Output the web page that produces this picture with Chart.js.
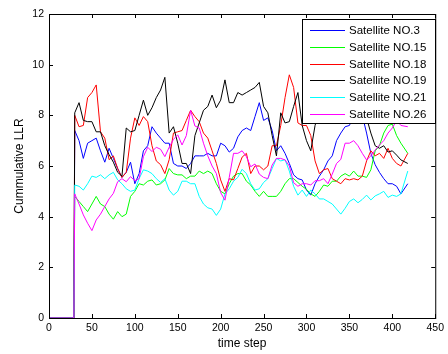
<!DOCTYPE html>
<html>
<head>
<meta charset="utf-8">
<script src="https://cdn.jsdelivr.net/npm/chart.js@4.4.1/dist/chart.umd.min.js"></script>
<style>
  body { margin: 0; background: #fff; }
  #wrap { width: 448px; height: 354px; }
</style>
</head>
<body>
<div id="wrap"><canvas id="llrChart" width="448" height="354"></canvas></div>
<script>
// time steps (0 until the detection starts, then every 5 steps)
var steps = [0, 29, 30, 35, 40, 45, 50, 55, 60, 65, 70, 75, 80, 85, 90, 95, 100, 105, 110, 115, 120, 125, 130, 135, 140, 145, 150, 155, 160, 165, 170, 175, 180, 185, 190, 195, 200, 205, 210, 215, 220, 225, 230, 235, 240, 245, 250, 255, 260, 265, 270, 275, 280, 285, 290, 295, 300, 305, 310, 315, 320, 325, 330, 335, 340, 345, 350, 355, 360, 365, 370, 375, 380, 385, 390, 395, 400, 405, 410, 418];

var sat3 = [0, 0, 7.4, 7.0, 6.3, 6.9, 7.0, 7.1, 6.6, 6.15, 6.7, 6.3, 5.9, 5.55, 5.75, 6.15, 5.3, 5.7, 6.6, 6.8, 7.55, 7.3, 7.1, 6.9, 6.9, 6.1, 6.0, 6.0, 5.9, 6.1, 6.4, 6.4, 6.4, 6.5, 6.4, 6.4, 6.9, 6.8, 6.55, 6.7, 7.15, 7.4, 7.5, 7.4, 7.95, 8.5, 7.8, 7.9, 7.4, 6.6, 6.8, 6.5, 6.1, 5.65, 5.5, 5.45, 5.05, 4.85, 5.3, 5.6, 5.85, 6.2, 6.4, 7.0, 7.3, 7.55, 7.6, 8.0, 7.8, 8.0, 7.3, 6.5, 6.05, 5.75, 5.5, 5.3, 5.3, 5.2, 4.9, 5.3];
var sat15 = [0, 0, 4.8, 4.6, 4.4, 4.2, 4.5, 4.8, 4.5, 4.4, 4.1, 3.9, 4.2, 4.0, 4.1, 4.8, 5.0, 5.3, 5.25, 5.4, 5.45, 5.25, 5.3, 5.45, 5.9, 5.7, 5.65, 5.65, 5.5, 5.6, 5.6, 5.8, 5.7, 5.8, 5.7, 5.3, 5.0, 4.9, 5.3, 5.6, 5.7, 5.7, 5.4, 5.25, 5.0, 4.8, 5.0, 4.8, 4.8, 4.8, 5.0, 5.3, 5.5, 5.5, 5.35, 5.2, 5.08, 4.9, 4.8, 5.0, 5.25, 5.2, 5.4, 5.4, 5.6, 5.7, 5.6, 5.8, 5.6, 5.6, 5.55, 5.85, 6.6, 6.8, 7.3, 7.6, 7.65, 7.2, 6.9, 6.5];
var sat18 = [0, 0, 8.0, 7.55, 7.6, 8.7, 8.9, 9.2, 7.35, 7.1, 6.25, 6.4, 5.9, 5.55, 5.75, 7.1, 7.9, 7.6, 7.95, 7.75, 6.8, 6.2, 6.05, 5.7, 6.25, 7.3, 7.35, 7.4, 7.8, 8.2, 7.95, 7.75, 7.3, 7.1, 6.6, 6.1, 5.45, 5.0, 5.5, 5.45, 5.9, 6.35, 6.5, 5.7, 6.0, 6.0, 5.85, 6.0, 6.8, 6.8, 7.6, 8.7, 9.6, 9.1, 7.7, 7.6, 7.6, 7.2, 6.2, 5.7, 5.85, 5.9, 5.5, 5.4, 5.3, 5.5, 5.45, 5.5, 5.45, 5.6, 6.2, 6.6, 6.4, 6.5, 6.3, 6.7, 6.3, 6.1, 6.0, 6.5];
var sat19 = [0, 0, 8.1, 8.5, 7.8, 7.75, 7.75, 7.35, 7.35, 6.8, 6.45, 6.15, 5.75, 5.6, 7.5, 7.35, 7.4, 8.0, 8.6, 8.0, 8.3, 8.7, 9.0, 9.5, 7.3, 7.55, 6.9, 6.1, 6.1, 5.7, 7.2, 7.7, 8.2, 8.35, 8.8, 8.3, 8.6, 9.4, 8.5, 8.5, 8.9, 8.8, 8.9, 9.0, 9.1, 9.3, 8.35, 8.1, 7.2, 6.4, 8.1, 7.7, 7.75, 8.35, 8.9, 7.6, 7.0, 6.6, 7.6, 8.2, 8.4, 8.1, 8.6, 8.3, 8.8, 8.5, 8.2, 8.6, 8.3, 8.0, 7.9, 7.3, 6.8, 6.7, 6.8, 6.55, 6.6, 6.43, 6.24, 6.1];
var sat21 = [0, 0, 5.25, 5.2, 5.05, 5.3, 5.6, 5.55, 5.65, 5.5, 5.65, 5.75, 5.45, 5.3, 5.1, 5.0, 5.05, 5.5, 5.85, 5.8, 5.7, 5.5, 5.35, 5.5, 5.05, 4.85, 5.0, 5.4, 5.4, 5.3, 5.3, 4.8, 4.5, 4.35, 4.3, 4.05, 4.3, 4.9, 5.1, 5.4, 5.55, 5.87, 5.7, 5.3, 5.05, 5.1, 5.35, 5.5, 5.9, 6.3, 6.2, 6.25, 5.8, 5.2, 4.85, 5.05, 4.8, 5.05, 4.9, 4.7, 4.7, 4.6, 4.5, 4.3, 4.1, 4.33, 4.6, 4.7, 4.55, 4.68, 4.85, 4.66, 4.82, 4.9, 5.0, 4.76, 4.85, 4.8, 4.9, 5.8];
var sat26 = [0, 0, 4.9, 4.5, 4.07, 3.74, 3.45, 3.87, 4.1, 4.4, 4.7, 4.92, 5.38, 5.5, 5.38, 5.58, 5.42, 5.5, 6.37, 6.74, 6.57, 6.74, 6.66, 6.37, 6.74, 7.05, 7.23, 6.83, 7.2, 8.2, 7.58, 7.5, 6.9, 6.4, 6.0, 5.7, 4.95, 4.65, 5.55, 6.5, 6.5, 6.6, 6.37, 5.97, 6.08, 5.68, 5.55, 5.5, 6.04, 6.3, 6.3, 6.24, 6.0, 5.34, 5.2, 5.3, 5.3, 5.25, 5.42, 5.42, 5.5, 5.3, 5.68, 6.1, 6.26, 6.9, 6.9, 7.0, 6.8, 6.5, 6.24, 6.4, 6.63, 6.83, 7.0, 7.3, 7.5, 7.8, 7.6, 7.55];

var seriesNames = ['Satellite NO.3', 'Satellite NO.15', 'Satellite NO.18', 'Satellite NO.19', 'Satellite NO.21', 'Satellite NO.26'];
var seriesColors = ['#0000ff', '#00ff00', '#ff0000', '#000000', '#00ffff', '#ff00ff'];
var seriesValues = [sat3, sat15, sat18, sat19, sat21, sat26];

var xTicks = [0, 50, 100, 150, 200, 250, 300, 350, 400, 450];
var yTicks = [0, 2, 4, 6, 8, 10, 12];

var FONT = '"Liberation Sans", Arial, Helvetica, sans-serif';

// axes box with inward ticks on all four sides
var framePlugin = {
    id: 'frame',
    afterDatasetsDraw: function(chart) {
        var ctx = chart.ctx, a = chart.chartArea;
        var x = chart.scales.x, y = chart.scales.y;
        ctx.save();
        ctx.strokeStyle = '#000';
        ctx.lineWidth = 1;
        ctx.beginPath();
        xTicks.forEach(function(v) {
            var px = Math.round(x.getPixelForValue(v)) + 0.5;
            ctx.moveTo(px, a.bottom); ctx.lineTo(px, a.bottom - 4);
            ctx.moveTo(px, a.top); ctx.lineTo(px, a.top + 4);
        });
        yTicks.forEach(function(v) {
            var py = Math.round(y.getPixelForValue(v)) + 0.5;
            ctx.moveTo(a.left, py); ctx.lineTo(a.left + 4, py);
            ctx.moveTo(a.right, py); ctx.lineTo(a.right - 4, py);
        });
        ctx.stroke();
        ctx.strokeRect(a.left + 0.5, a.top + 0.5, a.right - a.left, a.bottom - a.top);
        ctx.restore();
    }
};

// legend box drawn inside the plot, top right
var legendPlugin = {
    id: 'boxLegend',
    afterDraw: function(chart) {
        var ctx = chart.ctx;
        var bx = 302, by = 19, bw = 133, bh = 104;
        ctx.save();
        ctx.fillStyle = '#fff';
        ctx.fillRect(bx, by, bw, bh);
        ctx.strokeStyle = '#000';
        ctx.lineWidth = 1;
        ctx.strokeRect(bx + 0.5, by + 0.5, bw, bh);
        ctx.font = '11.5px ' + FONT;
        ctx.textBaseline = 'middle';
        seriesNames.forEach(function(name, i) {
            var ry = Math.round(by + 11 + i * 16.8) + 0.5;
            ctx.strokeStyle = seriesColors[i];
            ctx.beginPath();
            ctx.moveTo(310, ry);
            ctx.lineTo(345, ry);
            ctx.stroke();
            ctx.fillStyle = '#000';
            ctx.fillText(name, 349, ry);
        });
        ctx.restore();
    }
};

var datasets = seriesValues.map(function(vals, i) {
    return {
        label: seriesNames[i],
        data: steps.map(function(s, k) { return { x: s, y: vals[k] }; }),
        borderColor: seriesColors[i],
        backgroundColor: seriesColors[i],
        borderWidth: 1,
        pointRadius: 0,
        tension: 0,
        fill: false,
        clip: false,
        order: seriesNames.length - i
    };
});

var ctx = document.getElementById('llrChart').getContext('2d');
var llrChart = new Chart(ctx, {
    type: 'line',
    data: { datasets: datasets },
    options: {
        responsive: false,
        animation: false,
        layout: { padding: { top: 14, right: 10, left: 0, bottom: 0 } },
        scales: {
            x: {
                type: 'linear',
                min: 0,
                max: 450,
                afterFit: function(s) { s.height = 36; },
                afterBuildTicks: function(s) { s.ticks = xTicks.map(function(v) { return { value: v }; }); },
                grid: { display: false, drawTicks: false },
                border: { display: false },
                ticks: { color: '#000', padding: 4, maxRotation: 0, autoSkip: false, font: { family: FONT, size: 10.5 } },
                title: { display: true, text: 'time step', color: '#000', padding: { top: 2.8, bottom: 2.8 }, font: { family: FONT, size: 12 } }
            },
            y: {
                min: 0,
                max: 12,
                afterFit: function(s) { s.width = 49; },
                afterBuildTicks: function(s) { s.ticks = yTicks.map(function(v) { return { value: v }; }); },
                grid: { display: false, drawTicks: false },
                border: { display: false },
                ticks: { color: '#000', padding: 5, autoSkip: false, font: { family: FONT, size: 10.5 } },
                title: { display: true, text: 'Cummulative LLR', color: '#000', padding: { top: 12, bottom: 12 }, font: { family: FONT, size: 12 } }
            }
        },
        plugins: {
            legend: { display: false },
            tooltip: { enabled: false }
        }
    },
    plugins: [framePlugin, legendPlugin]
});
</script>
</body>
</html>
